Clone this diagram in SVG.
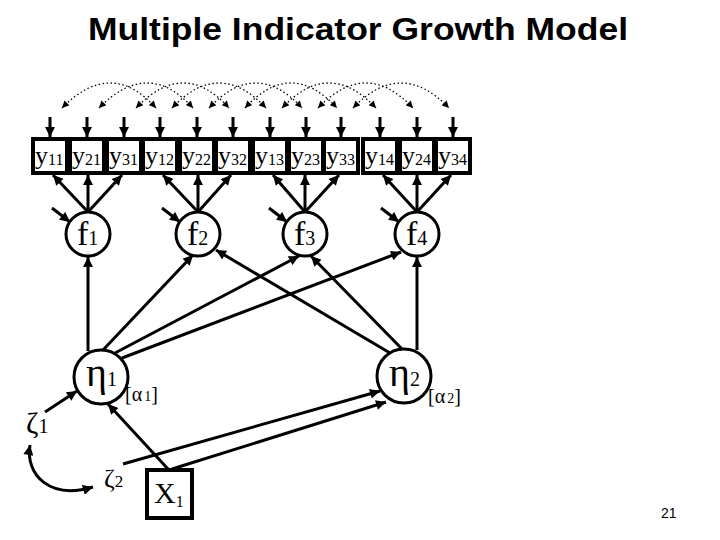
<svg xmlns="http://www.w3.org/2000/svg" width="720" height="540" viewBox="0 0 720 540">
<style>
.box{fill:#fff;stroke:#000;stroke-width:4}
.circ{fill:#fff;stroke:#000;stroke-width:3}
.ln{stroke:#000;stroke-width:3;fill:none}
.dot{stroke:#000;stroke-width:1.3;fill:none;stroke-dasharray:1.5 2.5}
.serif{font-family:"Liberation Serif","Times New Roman",serif;fill:#000}
.title{font-family:"Liberation Sans",Arial,sans-serif;font-weight:bold;font-size:32px;fill:#000}
</style>
<defs>
<marker id="ah" viewBox="0 0 10 10" refX="10" refY="5" markerWidth="11" markerHeight="10" markerUnits="userSpaceOnUse" orient="auto-start-reverse">
<path d="M0,0 L10,5 L0,10 z" fill="#000"/>
</marker>
<marker id="sh" viewBox="0 0 10 10" refX="10" refY="5" markerWidth="8" markerHeight="7" markerUnits="userSpaceOnUse" orient="auto-start-reverse">
<path d="M0,0 L10,5 L0,10 z" fill="#000"/>
</marker>
</defs>
<rect width="720" height="540" fill="#fff"/>
<text class="title" x="358" y="40" text-anchor="middle" textLength="540" lengthAdjust="spacingAndGlyphs">Multiple Indicator Growth Model</text>

<g id="connectors">
<g class="dot" marker-start="url(#sh)" marker-end="url(#sh)">
<path d="M62,108 Q111,58 156,108"/>
<path d="M99,108 Q148,58 193,108"/>
<path d="M136,108 Q184,58 229,108"/>
<path d="M172,108 Q219,58 266,108"/>
<path d="M209,108 Q256,58 302,108"/>
<path d="M245,108 Q291,58 337,108"/>
<path d="M282,108 Q329,58 376,108"/>
<path d="M318,108 Q366,58 413,108"/>
<path d="M353,108 Q401,58 449,108"/>
</g>
<g class="ln" marker-end="url(#ah)">
<path d="M50,117 V137"/><path d="M87,117 V137"/><path d="M124,117 V137"/>
<path d="M160,117 V137"/><path d="M197,117 V137"/><path d="M233,117 V137"/>
<path d="M270,117 V137"/><path d="M306,117 V137"/><path d="M341,117 V137"/>
<path d="M380,117 V137"/><path d="M417,117 V137"/><path d="M453,117 V137"/>
</g>
<g class="ln" marker-end="url(#ah)">
<path d="M88,212 L53,175"/><path d="M88,212 V175"/><path d="M88,212 L122,175"/>
<path d="M198,212 L163,175"/><path d="M198,212 V175"/><path d="M198,212 L231,175"/>
<path d="M305,212 L273,175"/><path d="M305,212 V175"/><path d="M305,212 L339,175"/>
<path d="M417,212 L383,175"/><path d="M417,212 V175"/><path d="M417,212 L451,175"/>
</g>
<g class="ln" marker-end="url(#ah)">
<path d="M52,208 L70,222"/>
<path d="M162,208 L180,222"/>
<path d="M269,208 L287,222"/>
<path d="M381,208 L399,222"/>
</g>
<g class="ln" marker-end="url(#ah)">
<path d="M88,351 V257"/>
<path d="M103,350 L193,255"/>
<path d="M115,353 L299,256"/>
<path d="M122,358 L401,252"/>
<path d="M417,350 V257"/>
<path d="M402,349 L311,256"/>
<path d="M390,353 L216,250"/>
</g>
<g class="ln" marker-end="url(#ah)">
<path d="M168,469 L108,404"/>
<path d="M123,464 L380,391"/>
<path d="M172,469 L386,402"/>
<path d="M45,412 L77,391"/>
</g>
<path class="ln" d="M30,445 C25,475 50,500 93,487" marker-start="url(#ah)" marker-end="url(#ah)"/>
</g>

<g id="y11"><rect class="box" x="33" y="139" width="34" height="34"/><text class="serif" x="35" y="164" font-size="26">y<tspan font-size="16" dy="1">11</tspan></text></g>
<g id="y21"><rect class="box" x="70" y="139" width="34" height="34"/><text class="serif" x="72" y="164" font-size="26">y<tspan font-size="16" dy="1">21</tspan></text></g>
<g id="y31"><rect class="box" x="107" y="139" width="34" height="34"/><text class="serif" x="109" y="164" font-size="26">y<tspan font-size="16" dy="1">31</tspan></text></g>
<g id="y12"><rect class="box" x="143" y="139" width="34" height="34"/><text class="serif" x="145" y="164" font-size="26">y<tspan font-size="16" dy="1">12</tspan></text></g>
<g id="y22"><rect class="box" x="180" y="139" width="34" height="34"/><text class="serif" x="182" y="164" font-size="26">y<tspan font-size="16" dy="1">22</tspan></text></g>
<g id="y32"><rect class="box" x="216" y="139" width="34" height="34"/><text class="serif" x="218" y="164" font-size="26">y<tspan font-size="16" dy="1">32</tspan></text></g>
<g id="y13"><rect class="box" x="253" y="139" width="34" height="34"/><text class="serif" x="255" y="164" font-size="26">y<tspan font-size="16" dy="1">13</tspan></text></g>
<g id="y23"><rect class="box" x="289" y="139" width="34" height="34"/><text class="serif" x="291" y="164" font-size="26">y<tspan font-size="16" dy="1">23</tspan></text></g>
<g id="y33"><rect class="box" x="324" y="139" width="34" height="34"/><text class="serif" x="326" y="164" font-size="26">y<tspan font-size="16" dy="1">33</tspan></text></g>
<g id="y14"><rect class="box" x="363" y="139" width="34" height="34"/><text class="serif" x="365" y="164" font-size="26">y<tspan font-size="16" dy="1">14</tspan></text></g>
<g id="y24"><rect class="box" x="400" y="139" width="34" height="34"/><text class="serif" x="402" y="164" font-size="26">y<tspan font-size="16" dy="1">24</tspan></text></g>
<g id="y34"><rect class="box" x="436" y="139" width="34" height="34"/><text class="serif" x="438" y="164" font-size="26">y<tspan font-size="16" dy="1">34</tspan></text></g>

<g id="f1"><circle class="circ" cx="88" cy="234" r="22"/><text class="serif" x="77" y="245" font-size="34">f<tspan font-size="20">1</tspan></text></g>
<g id="f2"><circle class="circ" cx="198" cy="234" r="22"/><text class="serif" x="187" y="245" font-size="34">f<tspan font-size="20">2</tspan></text></g>
<g id="f3"><circle class="circ" cx="305" cy="234" r="22"/><text class="serif" x="294" y="245" font-size="34">f<tspan font-size="20">3</tspan></text></g>
<g id="f4"><circle class="circ" cx="417" cy="234" r="22"/><text class="serif" x="406" y="245" font-size="34">f<tspan font-size="20">4</tspan></text></g>

<g id="eta1"><circle class="circ" cx="101" cy="377" r="27"/><text class="serif" x="86" y="386" font-size="40">η<tspan font-size="20">1</tspan></text><text class="serif" x="125" y="401" font-size="20">[α<tspan font-size="14" dx="2">1</tspan>]</text></g>
<g id="eta2"><circle class="circ" cx="404" cy="376" r="27"/><text class="serif" x="389" y="386" font-size="40">η<tspan font-size="20">2</tspan></text><text class="serif" x="428" y="403" font-size="20">[α<tspan font-size="14" dx="2">2</tspan>]</text></g>

<g id="zeta1"><text class="serif" x="26" y="433" font-size="30">ζ<tspan font-size="20">1</tspan></text></g>
<g id="zeta2"><text class="serif" x="104" y="487" font-size="26">ζ<tspan font-size="17">2</tspan></text></g>

<g id="x1"><rect class="box" x="147" y="470" width="45" height="48"/><text class="serif" x="154" y="503" font-size="30">X<tspan font-size="16" dy="4">1</tspan></text></g>

<text x="661" y="518" font-family="Liberation Sans, Arial, sans-serif" font-size="14" fill="#000">21</text>
</svg>
